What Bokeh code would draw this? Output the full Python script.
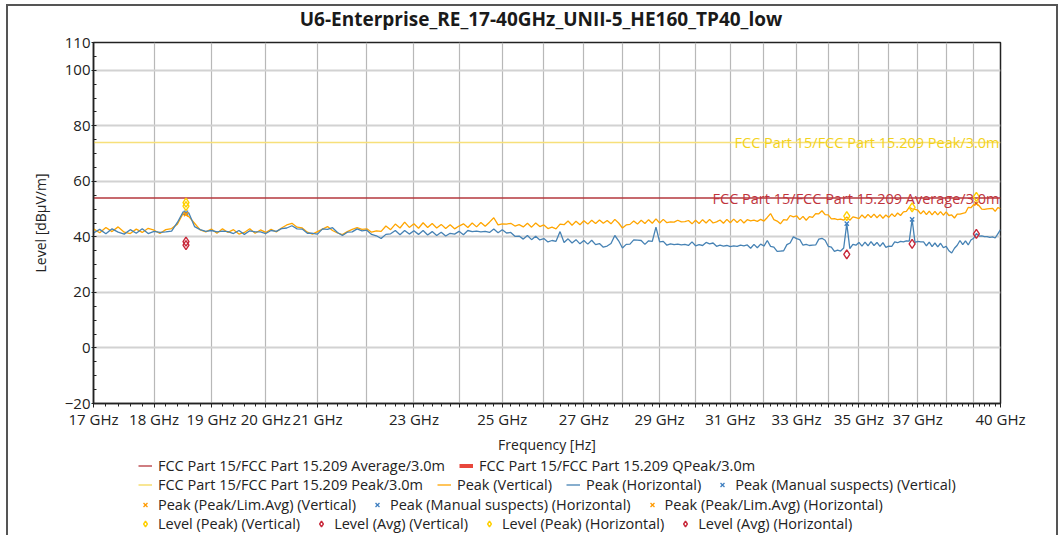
from bokeh.plotting import figure
from bokeh.layouts import column
from bokeh.models import (FixedTicker, CustomJSTickFormatter, Legend, LegendItem, Label)
from bokeh.embed import file_html
from bokeh.resources import INLINE

TITLE = "U6-Enterprise_RE_17-40GHz_UNII-5_HE160_TP40_low"

# sweep frequencies (GHz), 0.1 GHz steps from 17 to 40 GHz
freq_ghz = [round(v / 10.0, 1) for v in range(170, 401)]

peak_vertical = [
    42.9, 41.5, 43.4, 41.9, 43.6, 41.7, 41.2, 42.8, 41.6, 43.1,
    42.4, 41.2, 42.6, 43.0, 44.6, 48.4, 47.3, 44.9, 42.5, 41.8,
    42.8, 41.3, 42.9, 41.6, 42.6, 41.0, 41.6, 42.9, 41.3, 42.5,
    41.6, 42.7, 41.8, 43.2, 44.3, 44.9, 43.5, 43.2, 41.7, 41.0,
    41.9, 42.8, 43.7, 42.3, 41.4, 40.8, 41.9, 42.7, 43.3, 42.7,
    42.9, 41.7, 42.2, 42.0, 43.9, 42.6, 44.6, 43.2, 45.3, 43.4,
    44.7, 43.1, 45.1, 43.4, 44.8, 43.2, 44.5, 43.0, 44.4, 42.9,
    43.9, 44.7, 43.4, 45.0, 43.6, 45.2, 43.8, 45.3, 46.9, 44.3,
    44.7, 44.6, 44.9, 43.9, 44.4, 43.6, 44.9, 43.5, 45.0, 43.7,
    44.3, 43.0, 43.5, 42.9, 44.6, 44.4, 45.7, 44.2, 45.6, 44.4,
    45.8, 44.6, 46.0, 44.8, 46.1, 44.9, 45.9, 44.7, 46.3, 45.0,
    43.2, 44.3, 44.5, 45.7, 44.6, 46.0, 44.8, 46.2, 44.9, 46.5,
    45.0, 46.3, 45.1, 45.4, 45.3, 46.0, 45.4, 45.5, 45.9, 44.7,
    46.0, 44.8, 46.2, 45.0, 46.3, 45.0, 45.4, 46.1, 44.9, 46.3,
    45.1, 46.4, 45.2, 46.3, 45.0, 46.2, 45.8, 46.0, 45.6, 46.3,
    45.7, 47.0, 48.4, 46.2, 45.7, 44.7, 46.2, 46.0, 47.7, 47.2,
    47.6, 46.2, 47.4, 46.0, 47.3, 47.0, 48.4, 48.3, 49.4, 48.0,
    47.9, 46.5, 46.6, 46.2, 46.4, 46.0, 47.2, 46.0, 47.2, 46.9,
    46.6, 47.9, 46.8, 48.1, 47.0, 48.2, 46.9, 48.0, 46.7, 47.9,
    47.0, 48.3, 47.3, 48.6, 47.7, 49.0, 49.2, 50.6, 50.1, 49.9,
    49.6, 48.3, 49.4, 48.0, 49.3, 47.9, 49.2, 47.9, 49.1, 47.8,
    49.0, 47.7, 47.9, 46.8, 48.2, 48.2, 48.5, 48.7, 50.6, 50.5,
    51.6, 52.0, 51.2, 50.0, 49.9, 50.1, 50.2, 50.3, 49.2, 50.5,
    50.2,
]

peak_horizontal = [
    41.4, 42.7, 41.1, 42.9, 41.7, 41.0, 42.6, 41.3, 42.9, 41.2,
    42.0, 41.6, 41.8, 42.1, 45.2, 49.0, 48.6, 43.7, 42.6, 42.0,
    42.3, 41.8, 42.1, 41.9, 41.2, 42.3, 40.9, 42.2, 41.8, 41.8,
    41.2, 42.3, 42.0, 43.0, 43.2, 44.0, 42.9, 42.8, 41.3, 41.3,
    41.0, 42.9, 42.7, 43.3, 41.6, 40.5, 41.7, 41.8, 42.9, 42.2,
    42.4, 40.9, 40.4, 39.4, 40.9, 41.1, 42.3, 40.8, 42.3, 41.0,
    42.2, 40.9, 42.3, 40.7, 41.9, 40.5, 41.7, 40.3, 41.3, 41.0,
    42.0, 40.8, 42.3, 41.9, 42.1, 41.8, 42.0, 41.6, 42.8, 41.5,
    42.6, 41.4, 41.6, 40.2, 40.3, 39.2, 40.5, 39.0, 40.2, 38.9,
    39.4, 38.2, 38.7, 38.4, 41.9, 38.0, 39.3, 37.8, 39.0, 37.5,
    38.7, 37.4, 38.8, 37.2, 37.6, 36.3, 36.7, 37.6, 40.5, 38.6,
    36.0, 37.3, 37.4, 38.9, 38.8, 38.7, 37.3, 38.6, 38.4, 43.5,
    38.2, 38.4, 37.0, 37.5, 37.2, 37.4, 37.1, 37.3, 36.9, 38.2,
    36.8, 37.2, 36.9, 38.0, 37.5, 37.8, 36.6, 37.0, 36.7, 36.9,
    36.5, 36.8, 36.6, 37.0, 36.8, 37.1, 35.9, 37.3, 36.1, 37.4,
    36.7, 38.7, 36.6, 36.3, 34.8, 34.9, 35.0, 37.2, 37.8, 40.0,
    39.4, 39.0, 37.0, 37.3, 36.9, 37.0, 37.1, 39.2, 39.5, 38.8,
    36.6, 36.3, 34.8, 35.2, 34.9, 36.0, 44.8, 35.8, 37.3, 37.0,
    38.0, 36.7, 38.1, 36.8, 38.3, 36.9, 38.0, 36.6, 37.9, 36.2,
    36.7, 36.6, 38.2, 37.9, 38.4, 38.2, 38.6, 38.5, 46.3, 38.0,
    38.4, 38.2, 38.2, 36.8, 38.1, 36.5, 37.8, 36.4, 37.7, 36.1,
    36.6, 35.0, 34.2, 35.9, 37.0, 38.7, 37.2, 38.6, 37.1, 38.9,
    39.5, 41.2, 40.3, 40.4, 40.1, 40.1, 39.8, 40.0, 39.6, 41.1,
    42.6,
]

limit_average = 54.0
limit_peak = 74.0
limit_range_ghz = [17.0, 40.0]

# final measurement markers
level_peak_v_f = [18.55, 34.6, 39.1]
level_peak_v = [52.3, 47.5, 54.4]
level_peak_h_f = [18.55, 36.8]
level_peak_h = [51.1, 50.6]
level_avg_v_f = [18.55, 34.6, 39.1]
level_avg_v = [38.3, 33.7, 41.1]
level_avg_h_f = [18.55, 36.8]
level_avg_h = [37.0, 37.5]
manual_v_f = [18.55]
manual_v = [48.7]
manual_h_f = [34.6, 36.8]
manual_h = [44.8, 46.3]
limavg_v_f = [18.55]
limavg_v = [48.2]
limavg_h_f = [39.1]
limavg_h = [52.0]

y_ticks = [-20, 0, 20, 40, 60, 80, 100, 110]
x_ticks = list(range(17, 41))
x_labeled = [17, 18, 19, 20, 21, 23, 25, 27, 29, 31, 33, 35, 37, 40]

FONT = "Open Sans"
W = 1048


def blank_fig(h):
    f = figure(width=W, height=h, output_backend="svg", toolbar_location=None,
               x_range=(0, 1), y_range=(0, 1), min_border=0,
               x_axis_location=None, y_axis_location=None)
    f.grid.visible = False
    f.outline_line_color = None
    f.background_fill_color = "white"
    f.border_fill_color = "white"
    return f


# title strip
t = blank_fig(24)
t.add_layout(Label(x=0.5, y=0.5, text=TITLE, text_align="center", text_baseline="middle",
                   text_font=FONT, text_font_size="19px", text_font_style="bold",
                   text_color="#1a1a1a", x_offset=-6))

p = figure(width=W, height=426, x_axis_type="log", output_backend="svg",
           toolbar_location=None, x_range=(17, 40), y_range=(-20, 110),
           min_border_left=85, min_border_right=56, min_border_top=12,
           min_border_bottom=50)

p.outline_line_color = "#222222"
p.outline_line_width = 1.5
p.background_fill_color = "white"
p.border_fill_color = "white"

xt = FixedTicker(ticks=x_ticks, minor_ticks=[round(17 + i * 0.2, 1) for i in range(0, 116)])
p.xaxis.ticker = xt
p.xgrid.ticker = xt
p.xaxis.formatter = CustomJSTickFormatter(args=dict(labeled=x_labeled), code="""
const t = Math.round(tick);
return labeled.indexOf(t) >= 0 ? t + ' GHz' : '';
""")
yt = FixedTicker(ticks=y_ticks, minor_ticks=list(range(-20, 111, 5)))
p.yaxis.ticker = yt
p.ygrid.ticker = yt

for ax in (p.xaxis, p.yaxis):
    ax.axis_line_color = "#222222"
    ax.axis_line_width = 1.5
    ax.major_tick_line_color = "#222222"
    ax.minor_tick_line_color = "#222222"
    ax.major_label_text_font = FONT
    ax.major_label_text_font_size = "15px"
    ax.major_label_text_color = "#222222"
    ax.axis_label_text_font = FONT
    ax.axis_label_text_font_size = "14px"
    ax.axis_label_text_font_style = "normal"
    ax.axis_label_text_color = "#222222"
    ax.major_tick_in = 0

p.xaxis.major_tick_out = 4
p.yaxis.major_tick_out = 2
p.xaxis.minor_tick_in = 0
p.xaxis.minor_tick_out = 3
p.yaxis.minor_tick_in = 3
p.yaxis.minor_tick_out = 0
p.xaxis.major_label_standoff = 1
p.yaxis.major_label_standoff = 1
p.xaxis.axis_label = "Frequency [Hz]"
p.yaxis.axis_label = "Level [dBµV/m]"
p.xaxis.axis_label_standoff = 3
p.yaxis.axis_label_standoff = 12

p.xgrid.grid_line_color = "#b8b8b8"
p.xgrid.grid_line_width = 1.2
p.ygrid.grid_line_color = "#d2d2d2"
p.ygrid.grid_line_width = 1.8

STY = dict(
    avg=dict(line_color="#B5373D", line_width=1.3),
    qp=dict(line_color="#E8473C", line_width=4),
    pk=dict(line_color="#F7E07A", line_width=1.6),
    v=dict(line_color="#FFA500", line_width=1.3),
    h=dict(line_color="#4682B4", line_width=1.3),
    xb=dict(marker="x", size=6, line_color="#3F7FC0", line_width=1.3),
    xo=dict(marker="x", size=6, line_color="#FF9A00", line_width=1.3),
    dy=dict(marker="diamond", size=9, fill_color=None, line_color="#FFD000", line_width=1.4),
    dr=dict(marker="diamond", size=9, fill_color=None, line_color="#C8283A", line_width=1.4),
)

# limit lines
p.line(limit_range_ghz, [limit_average] * 2, **STY["avg"])
p.line(limit_range_ghz, [limit_peak] * 2, **STY["pk"])

p.add_layout(Label(x=40, y=limit_peak, text="FCC Part 15/FCC Part 15.209 Peak/3.0m",
                   text_align="right", text_baseline="middle", text_color="#F3D21A",
                   text_font=FONT, text_font_size="14.5px", x_offset=-1))
p.add_layout(Label(x=40, y=limit_average, text="FCC Part 15/FCC Part 15.209 Average/3.0m",
                   text_align="right", text_baseline="middle", text_color="#C0343C",
                   text_font=FONT, text_font_size="14.5px", x_offset=-1))

# traces
p.line(freq_ghz, peak_vertical, **STY["v"])
p.line(freq_ghz, peak_horizontal, **STY["h"])

# markers
p.scatter(manual_v_f, manual_v, **STY["xb"])
p.scatter(manual_h_f, manual_h, **STY["xb"])
p.scatter(limavg_v_f, limavg_v, **STY["xo"])
p.scatter(limavg_h_f, limavg_h, **STY["xo"])
p.scatter(level_peak_v_f, level_peak_v, **STY["dy"])
p.scatter(level_peak_h_f, level_peak_h, **STY["dy"])
p.scatter(level_avg_v_f, level_avg_v, **STY["dr"])
p.scatter(level_avg_h_f, level_avg_h, **STY["dr"])

# legend strip (separate figure underneath)
LH = 79
q = blank_fig(LH)


def dummy(kind):
    st = STY[kind]
    if "marker" in st:
        return q.scatter([-10], [-10], **st)
    return q.line([-10, -9], [-10, -10], **st)


rows = [
    [("FCC Part 15/FCC Part 15.209 Average/3.0m", "avg"),
     ("FCC Part 15/FCC Part 15.209 QPeak/3.0m", "qp")],
    [("FCC Part 15/FCC Part 15.209 Peak/3.0m", "pk"),
     ("Peak (Vertical)", "v"),
     ("Peak (Horizontal)", "h"),
     ("Peak (Manual suspects) (Vertical)", "xb")],
    [("Peak (Peak/Lim.Avg) (Vertical)", "xo"),
     ("Peak (Manual suspects) (Horizontal)", "xb"),
     ("Peak (Peak/Lim.Avg) (Horizontal)", "xo")],
    [("Level (Peak) (Vertical)", "dy"),
     ("Level (Avg) (Vertical)", "dr"),
     ("Level (Peak) (Horizontal)", "dy"),
     ("Level (Avg) (Horizontal)", "dr")],
]
row_bottoms = [60, 41, 21.5, 2.5]
for row, yb in zip(rows, row_bottoms):
    lg = Legend(items=[LegendItem(label=txt, renderers=[dummy(k)]) for txt, k in row],
                orientation="horizontal", location=(45, yb),
                border_line_color=None, background_fill_alpha=0,
                padding=0, margin=0, spacing=14, label_standoff=6,
                glyph_width=14, glyph_height=19, label_height=19,
                label_text_font=FONT, label_text_font_size="14.5px",
                label_text_color="#222222")
    q.add_layout(lg, "center")

layout = column(t, p, q, spacing=0, margin=(4, 0, 0, 6),
                styles={"border-top": "2px solid #555555",
                        "border-left": "2px solid #555555",
                        "border-right": "2px solid #555555",
                        "background": "white"})

open("out.html", "w").write(file_html(layout, INLINE))
